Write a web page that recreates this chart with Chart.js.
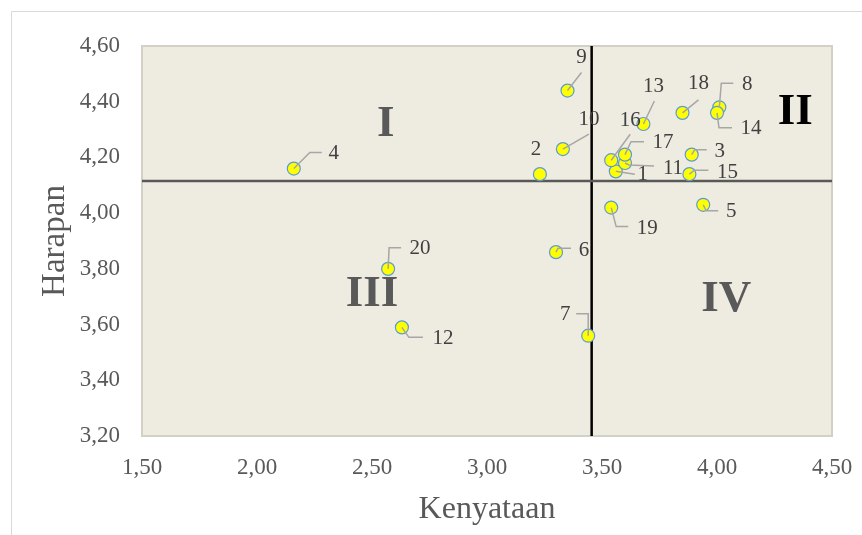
<!DOCTYPE html>
<html>
<head>
<meta charset="utf-8">
<script src="https://cdn.jsdelivr.net/npm/chart.js@4/dist/chart.umd.min.js"></script>
<style>
html,body{margin:0;padding:0;background:#ffffff;}
#wrap{position:relative;width:862px;height:535px;}
</style>
</head>
<body>
<div id="wrap"><canvas id="c" width="862" height="535"></canvas></div>
<script>
// ---- data ----
const pointIds  = ['1','2','3','4','5','6','7','8','9','10','11','12','13','14','15','16','17','18','19','20'];
const kenyataan = [3.56,3.23,3.89,2.16,3.94,3.30,3.44,4.01,3.35,3.33,3.60,2.63,3.68,4.00,3.88,3.54,3.60,3.85,3.54,2.57];
const harapan   = [4.15,4.14,4.21,4.16,4.03,3.86,3.56,4.38,4.44,4.23,4.18,3.59,4.32,4.36,4.14,4.19,4.21,4.36,4.02,3.80];
const meanKenyataan = 3.455;
const meanHarapan   = 4.115;
const xTickValues = [1.5,2.0,2.5,3.0,3.5,4.0,4.5];
const yTickValues = [3.2,3.4,3.6,3.8,4.0,4.2,4.4,4.6];
const quadrantNames = ['I','II','III','IV'];
const quadrantX = [2.56,4.34,2.50,4.04];
const quadrantY = [4.32,4.36,3.71,3.69];

// ---- label layout (pixel offsets from each point; styling only) ----
const labelLayout = [
  [27,3,[[0,0],[19,3]]],
  [-4,-25,null],
  [28,-3,[[0,0],[3,-5],[15,-5]]],
  [40,-15,[[0,0],[16,-16],[28,-16]]],
  [28,7,[[0,0],[3,6],[15,6]]],
  [28,-2,[[0,0],[2,-4],[15,-4]]],
  [-23,-21,[[0,0],[0,-22],[-12,-22]]],
  [28,-23,[[0,0],[2,-24],[14,-24]]],
  [14,-33,[[0,0],[14,-18]]],
  [26,-30,[[0,0],[26,-15]]],
  [48,5,[[0,0],[4,2],[29,3]]],
  [41,11,[[0,0],[7,10],[21,10]]],
  [10,-38,[[0,0],[11,-23]]],
  [34,16,[[0,0],[2,15],[15,15]]],
  [38,-2,[[0,0],[5,-4],[19,-4]]],
  [19,-40,[[0,0],[19,-26]]],
  [38,-12,[[0,0],[6,-13],[19,-13]]],
  [16,-29,[[0,0],[16,-13]]],
  [36,21,[[0,0],[5,19],[17,19]]],
  [32,-20,[[0,0],[1,-21],[13,-21]]]
];

const fmt = v => Number(v).toFixed(2).replace('.', ',');
const SERIF = '"Liberation Serif", "Times New Roman", serif';

const points = kenyataan.map((x, i) => ({x: x, y: harapan[i]}));
const hLine = [{x: xTickValues[0], y: meanHarapan}, {x: xTickValues[xTickValues.length-1], y: meanHarapan}];
const vLine = [{x: meanKenyataan, y: yTickValues[0]}, {x: meanKenyataan, y: yTickValues[yTickValues.length-1]}];

const framePlugin = {
  id: 'frame',
  beforeDraw(chart) {
    const ctx = chart.ctx, a = chart.chartArea;
    ctx.save();
    ctx.fillStyle = '#ffffff';
    ctx.fillRect(0, 0, chart.width, chart.height);
    ctx.strokeStyle = '#D9D9D9';
    ctx.lineWidth = 1;
    ctx.beginPath();
    ctx.moveTo(11.5, chart.height);
    ctx.lineTo(11.5, 11.5);
    ctx.lineTo(chart.width, 11.5);
    ctx.stroke();
    ctx.fillStyle = '#EEECE1';
    ctx.fillRect(a.left, a.top, a.right - a.left, a.bottom - a.top);
    ctx.strokeStyle = '#D3D1C6';
    ctx.lineWidth = 2;
    ctx.strokeRect(a.left, a.top, a.right - a.left, a.bottom - a.top);
    ctx.restore();
  }
};

const labelPlugin = {
  id: 'pointLabels',
  afterDatasetsDraw(chart) {
    const ctx = chart.ctx;
    const xs = chart.scales.x, ys = chart.scales.y;
    ctx.save();
    // quadrant names
    ctx.font = 'bold 45px ' + SERIF;
    ctx.textAlign = 'center';
    ctx.textBaseline = 'middle';
    quadrantNames.forEach((q, i) => {
      ctx.fillStyle = (q === 'II') ? '#000000' : '#595959';
      ctx.fillText(q, xs.getPixelForValue(quadrantX[i]), ys.getPixelForValue(quadrantY[i]));
    });
    // leader lines
    ctx.strokeStyle = '#A6A6A6';
    ctx.lineWidth = 1.5;
    points.forEach((p, i) => {
      const px = xs.getPixelForValue(p.x), py = ys.getPixelForValue(p.y);
      const path = labelLayout[i][2];
      if (!path) return;
      ctx.beginPath();
      path.forEach((pt, k) => {
        if (k === 0) ctx.moveTo(px + pt[0], py + pt[1]);
        else ctx.lineTo(px + pt[0], py + pt[1]);
      });
      ctx.stroke();
    });
    // labels
    ctx.font = '21px ' + SERIF;
    ctx.fillStyle = '#404040';
    points.forEach((p, i) => {
      const px = xs.getPixelForValue(p.x), py = ys.getPixelForValue(p.y);
      ctx.fillText(pointIds[i], px + labelLayout[i][0], py + labelLayout[i][1]);
    });
    ctx.restore();
  }
};

new Chart(document.getElementById('c'), {
  type: 'scatter',
  data: {
    datasets: [
      {
        label: 'Atribut',
        data: points,
        pointRadius: 6.5,
        pointBackgroundColor: '#FFFF00',
        pointBorderColor: '#5B9BD5',
        pointBorderWidth: 1.2,
        order: 0
      },
      {
        label: 'Rata-rata Harapan',
        data: hLine,
        showLine: true,
        borderColor: '#595959',
        borderWidth: 2.5,
        pointRadius: 0,
        order: 1
      },
      {
        label: 'Rata-rata Kenyataan',
        data: vLine,
        showLine: true,
        borderColor: '#000000',
        borderWidth: 2.5,
        pointRadius: 0,
        order: 1
      }
    ]
  },
  options: {
    responsive: false,
    devicePixelRatio: 1,
    animation: false,
    layout: {padding: {top: 46, right: 30, bottom: 0, left: 0}},
    plugins: {legend: {display: false}, tooltip: {enabled: false}},
    scales: {
      x: {
        type: 'linear',
        min: xTickValues[0],
        max: xTickValues[xTickValues.length-1],
        afterBuildTicks: s => { s.ticks = xTickValues.map(v => ({value: v})); },
        afterFit: s => { s.height = 99; s.paddingLeft = 0; s.paddingRight = 0; },
        grid: {display: false, drawTicks: false},
        border: {display: false},
        ticks: {padding: 18, color: '#595959', font: {family: SERIF, size: 23}, callback: v => fmt(v), maxRotation: 0, autoSkip: false},
        title: {display: true, text: 'Kenyataan', color: '#595959', font: {family: SERIF, size: 32}, padding: {top: 0, bottom: 6}}
      },
      y: {
        type: 'linear',
        min: yTickValues[0],
        max: yTickValues[yTickValues.length-1],
        afterBuildTicks: s => { s.ticks = yTickValues.map(v => ({value: v})); },
        afterFit: s => { s.width = 142; s.paddingTop = 0; s.paddingBottom = 0; },
        grid: {display: false, drawTicks: false},
        border: {display: false},
        ticks: {padding: 22, color: '#595959', font: {family: SERIF, size: 23}, callback: v => fmt(v), autoSkip: false},
        title: {display: true, text: 'Harapan', color: '#595959', font: {family: SERIF, size: 33}, padding: {top: 36, bottom: 0}}
      }
    }
  },
  plugins: [framePlugin, labelPlugin]
});
</script>
</body>
</html>
